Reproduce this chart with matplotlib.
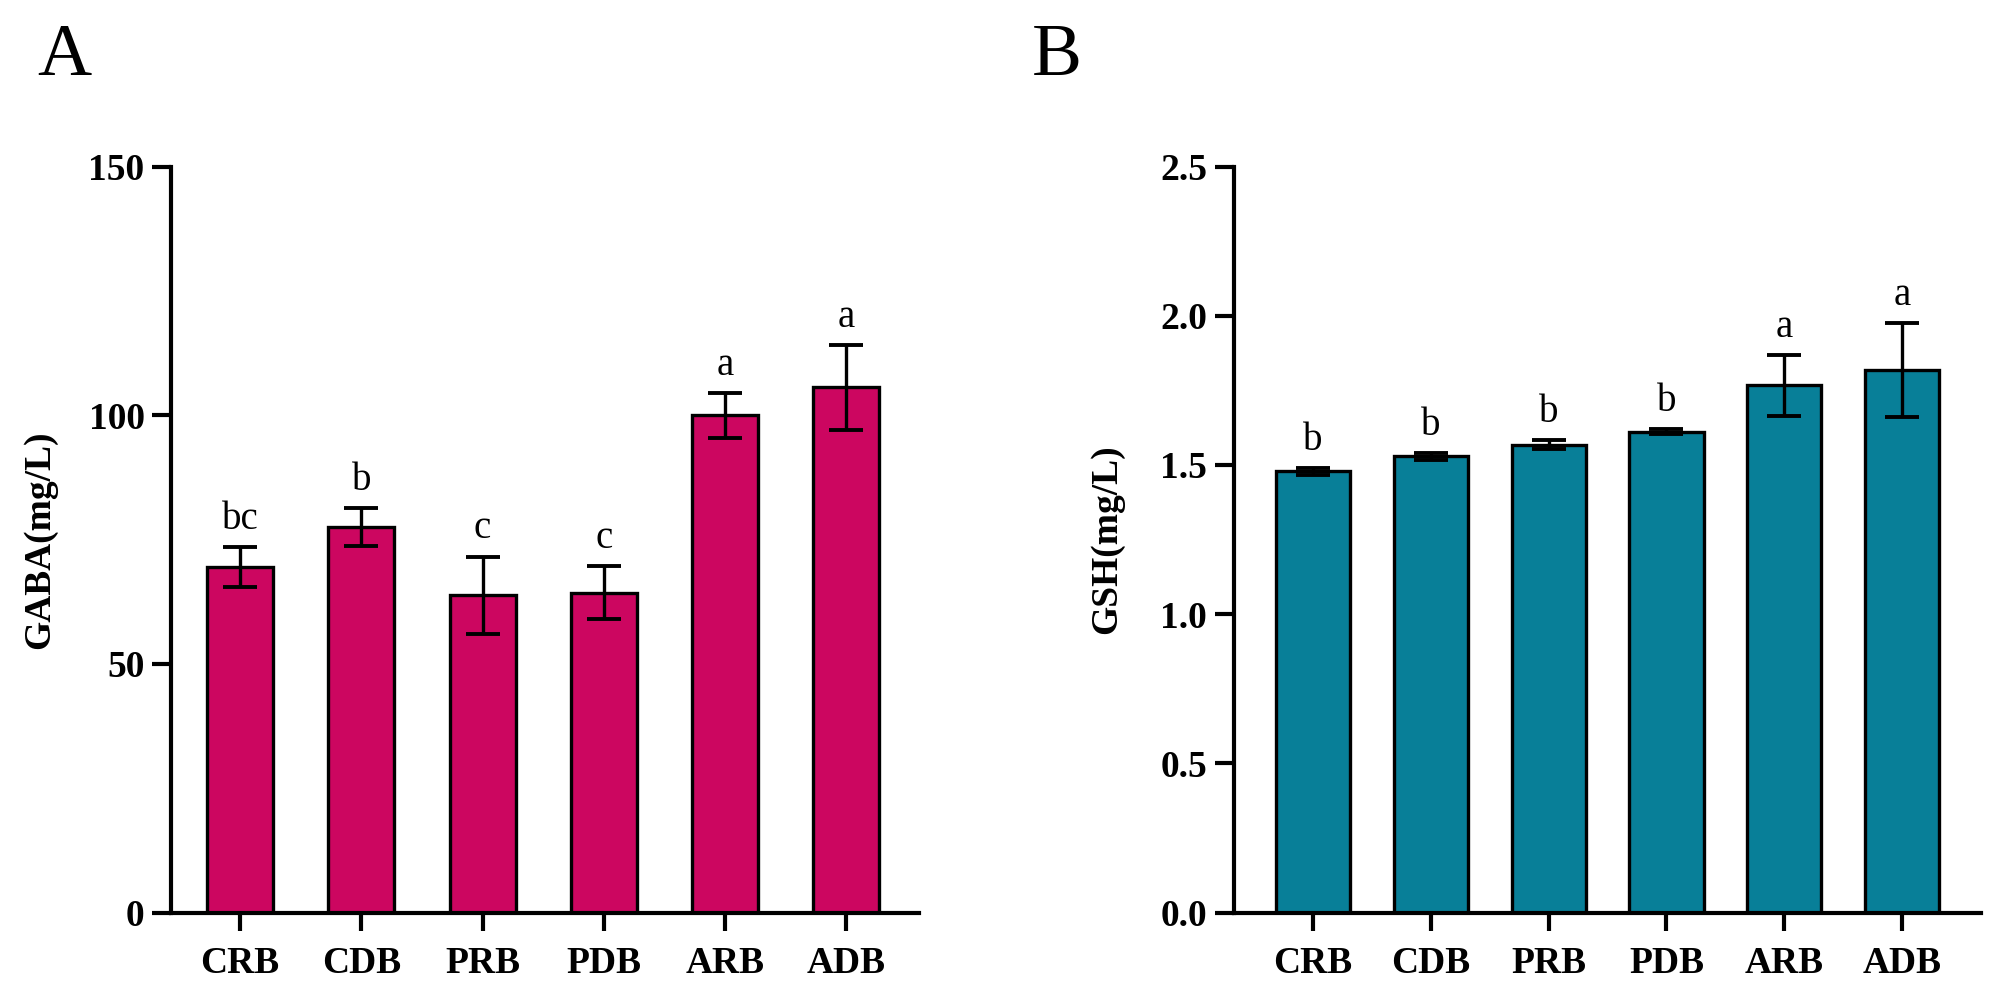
import matplotlib
matplotlib.use("Agg")
import matplotlib.pyplot as plt
import numpy as np

plt.rcParams['font.family'] = ['Liberation Serif', 'DejaVu Serif']

categories = ["CRB", "CDB", "PRB", "PDB", "ARB", "ADB"]

gaba_mean = [69.5, 77.6, 63.8, 64.3, 100.0, 105.6]
gaba_err = [4.0, 3.8, 7.8, 5.3, 4.5, 8.5]
gaba_letters = ["bc", "b", "c", "c", "a", "a"]

gsh_mean = [1.479, 1.529, 1.568, 1.611, 1.767, 1.818]
gsh_err = [0.012, 0.012, 0.015, 0.008, 0.103, 0.158]
gsh_letters = ["b", "b", "b", "b", "a", "a"]

W, H = 1998, 993
fig = plt.figure(figsize=(W / 100, H / 100), dpi=100)

y0 = 1 - 912.6 / H
hgt = (912.6 - 166.6) / H
axA = fig.add_axes([171 / W, y0, (919 - 171) / W, hgt])
axB = fig.add_axes([1233.6 / W, y0, (1981 - 1233.6) / W, hgt])


def draw(ax, means, errs, letters, color, width, ylim, yticks, ylabel, fmt, xlim, labx):
    x = np.arange(len(categories))
    ax.bar(x, means, width=width, color=color, edgecolor='black', linewidth=2.4,
           yerr=errs, capsize=12.5,
           error_kw=dict(elinewidth=2.4, capthick=2.8, ecolor='black'), zorder=2)
    for xi, m, e, t in zip(x, means, errs, letters):
        ax.annotate(t, xy=(xi, m + e), xytext=(0, 13), textcoords='offset points',
                    ha='center', va='baseline', fontsize=28)
    ax.set_xlim(*xlim)
    ax.set_ylim(*ylim)
    ax.set_yticks(yticks)
    ax.set_yticklabels([fmt.format(v) for v in yticks], fontsize=27, fontweight='bold')
    ax.set_xticks(x)
    ax.set_xticklabels(categories, fontsize=27, fontweight='bold')
    ax.spines['top'].set_visible(False)
    ax.spines['right'].set_visible(False)
    for s in ['left', 'bottom']:
        ax.spines[s].set_linewidth(3)
    ax.tick_params(axis='y', direction='out', length=14, width=3, pad=5)
    ax.tick_params(axis='x', direction='out', length=13, width=3, pad=11)
    ax.set_ylabel(ylabel, fontsize=27, fontweight='bold')
    ax.yaxis.set_label_coords(labx, 0.5)


draw(axA, gaba_mean, gaba_err, gaba_letters, '#CC0660', 0.545,
     (0, 150), [0, 50, 100, 150], 'GABA(mg/L)', '{:.0f}', (-0.57, 5.6), -0.152)
draw(axB, gsh_mean, gsh_err, gsh_letters, '#087F98', 0.63,
     (0, 2.5), [0.0, 0.5, 1.0, 1.5, 2.0, 2.5], 'GSH(mg/L)', '{:.1f}', (-0.675, 5.67), -0.147)

fig.text(37 / W, 1 - 75 / H, 'A', fontsize=54, ha='left', va='baseline')
fig.text(1032 / W, 1 - 75 / H, 'B', fontsize=54, ha='left', va='baseline')

fig.savefig('out.png', dpi=100)
